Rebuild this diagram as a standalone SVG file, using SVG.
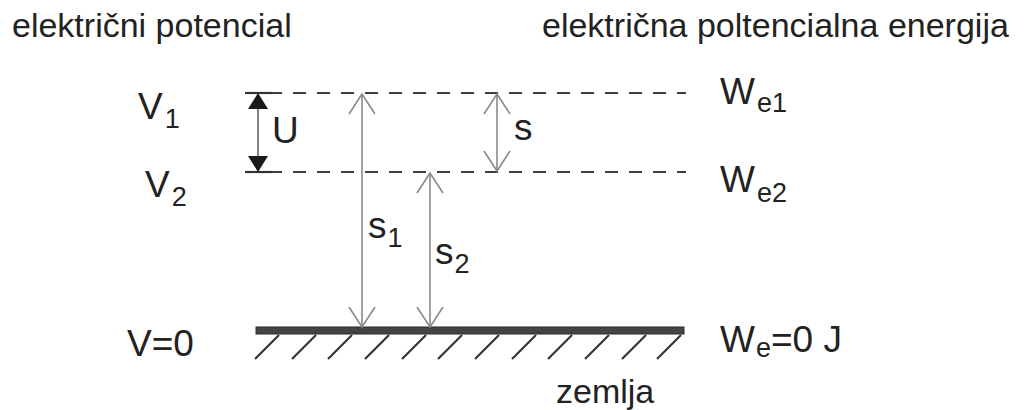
<svg xmlns="http://www.w3.org/2000/svg" width="1029" height="410" viewBox="0 0 1029 410">
<style>
text{font-family:"Liberation Sans",Arial,sans-serif;fill:#222}
.t{font-size:34px}
.l{font-size:37px}
.sub{font-size:27px}
.dash{stroke:#3f3f3f;stroke-width:2.2;stroke-dasharray:13 11;fill:none}
.ar{stroke:#8a8a8a;stroke-width:1.6;fill:none}
.hd{stroke:#8a8a8a;stroke-width:1.6;fill:none;stroke-linejoin:miter}
.hatch{stroke:#333;stroke-width:2.2}
</style>
<rect width="1029" height="410" fill="#fff"/>
<g id="titles">
<text class="t" x="12" y="37">električni potencial</text>
<text class="t" x="542" y="37">električna poltencialna energija</text>
</g>
<g id="levels">
<line class="dash" x1="245" y1="93" x2="686" y2="93"/>
<line class="dash" x1="245" y1="172" x2="686" y2="172"/>
</g>
<g id="ground">
<rect x="256" y="327" width="428" height="7" fill="#444" stroke="#2a2a2a" stroke-width="1"/>
<g class="hatch">
<line x1="255" y1="359" x2="279" y2="335"/>
<line x1="292" y1="359" x2="316" y2="335"/>
<line x1="328" y1="359" x2="352" y2="335"/>
<line x1="365" y1="359" x2="389" y2="335"/>
<line x1="402" y1="359" x2="426" y2="335"/>
<line x1="438" y1="359" x2="462" y2="335"/>
<line x1="475" y1="359" x2="499" y2="335"/>
<line x1="512" y1="359" x2="536" y2="335"/>
<line x1="548" y1="359" x2="572" y2="335"/>
<line x1="585" y1="359" x2="609" y2="335"/>
<line x1="622" y1="359" x2="646" y2="335"/>
<line x1="657" y1="359" x2="681" y2="335"/>
</g>
<text class="t" x="556" y="403">zemlja</text>
</g>
<g id="connectors">
<g id="U-arrow">
<line x1="258" y1="100" x2="258" y2="165" stroke="#777" stroke-width="1.8"/>
<line x1="245" y1="93" x2="272" y2="93" stroke="#333" stroke-width="2.2"/>
<line x1="245" y1="172" x2="272" y2="172" stroke="#333" stroke-width="2.2"/>
<polygon points="258,93 248,109 268,109" fill="#1a1a1a"/>
<polygon points="258,172 248,156 268,156" fill="#1a1a1a"/>
</g>
<g id="s1-arrow">
<line class="ar" x1="362" y1="94" x2="362" y2="327"/>
<polyline class="hd" points="349,114 362,94 375,114"/>
<polyline class="hd" points="349,307 362,327 375,307"/>
</g>
<g id="s2-arrow">
<line class="ar" x1="430" y1="173" x2="430" y2="327"/>
<polyline class="hd" points="417,193 430,173 443,193"/>
<polyline class="hd" points="417,307 430,327 443,307"/>
</g>
<g id="s-arrow">
<line class="ar" x1="497" y1="94" x2="497" y2="171"/>
<polyline class="hd" points="484,114 497,94 510,114"/>
<polyline class="hd" points="484,151 497,171 510,151"/>
</g>
</g>
<g id="labels-left">
<text class="l" x="138" y="119">V<tspan class="sub" dx="2" dy="9">1</tspan></text>
<text class="l" x="145" y="197">V<tspan class="sub" dx="2" dy="9">2</tspan></text>
<text class="l" x="127" y="356">V=0</text>
</g>
<g id="labels-mid">
<text class="l" x="272" y="143">U</text>
<text class="l" x="514" y="140">s</text>
<text class="l" x="368" y="238">s<tspan class="sub" dx="1" dy="9">1</tspan></text>
<text class="l" x="435" y="264">s<tspan class="sub" dx="1" dy="9">2</tspan></text>
</g>
<g id="labels-right">
<text class="l" x="720" y="104">W<tspan class="sub" dx="2" dy="8">e1</tspan></text>
<text class="l" x="720" y="192">W<tspan class="sub" dx="2" dy="10">e2</tspan></text>
<text class="l" x="720" y="352">W<tspan class="sub" dx="1" dy="5">e</tspan><tspan dy="-5">=0 J</tspan></text>
</g>
</svg>
